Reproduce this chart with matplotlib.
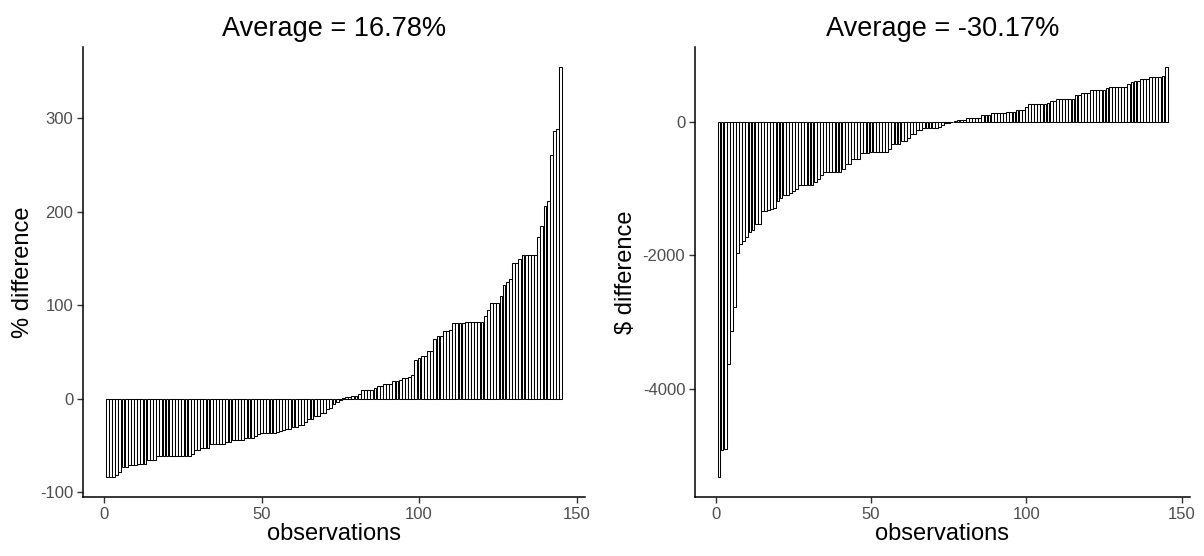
import matplotlib
matplotlib.use("Agg")
import matplotlib.pyplot as plt

plt.rcParams['font.family'] = ['Liberation Sans', 'DejaVu Sans']
plt.rcParams['axes.unicode_minus'] = False

# ---- data ----
pct_diff = [
    -83, -83, -83, -81, -78, -73, -73, -71, -71, -71,
    -70, -70, -70, -65, -65, -65, -61, -61, -61, -61,
    -61, -61, -61, -61, -61, -61, -61, -59, -55, -55,
    -52, -52, -52, -48, -48, -48, -48, -48, -46, -46,
    -44, -44, -44, -44, -42, -42, -42, -40, -38, -36,
    -36, -36, -36, -36, -35.5, -34.5, -33.8, -32, -32, -30.3,
    -30.3, -28, -28, -24.4, -21.6, -21.6, -18.8, -18.8, -14.6, -14.6,
    -11, -9.4, -6, -3.5, -1.4, 0.8, 1.8, 1.8, 3.5, 3.5,
    5.7, 9, 9, 9, 9, 12, 14, 14, 15.5, 15.5,
    15.5, 19.5, 19.5, 20.6, 22.3, 22.3, 23, 25, 42, 44,
    46, 46, 51, 51, 64, 67, 67, 72, 72, 74,
    80.5, 80.5, 80.5, 80.5, 82, 82, 82, 82, 82, 82,
    89, 95, 102, 102, 102, 110, 122, 125, 128, 145,
    145, 149, 154, 154, 154, 154, 154, 173, 185, 206,
    211, 260, 286, 288, 354,
]

usd_diff = [
    -5318, -4920, -4900, -3627, -3144, -2781, -1970, -1836, -1786, -1736,
    -1652, -1622, -1540, -1530, -1338, -1338, -1330, -1313, -1289, -1189,
    -1139, -1104, -1100, -1064, -1040, -1015, -955, -955, -955, -955,
    -955, -905, -866, -806, -756, -756, -756, -756, -756, -756,
    -706, -642, -642, -557, -557, -557, -478, -478, -478, -453,
    -453, -453, -453, -453, -453, -418, -343, -343, -343, -294,
    -294, -244, -179, -179, -125, -125, -100, -100, -100, -100,
    -100, -75, -50, -15, -15, -3, 3, 25, 25, 25,
    50, 50, 50, 50, 50, 100, 100, 100, 134, 134,
    134, 134, 134, 149, 149, 149, 174, 174, 174, 224,
    259, 259, 259, 259, 259, 259, 274, 313, 313, 338,
    338, 338, 338, 338, 338, 398, 398, 423, 423, 423,
    473, 473, 473, 473, 473, 498, 522, 522, 522, 522,
    522, 522, 562, 597, 612, 612, 637, 637, 637, 662,
    662, 662, 662, 687, 811,
]

titles = ["Average = 16.78%", "Average = -30.17%"]
ylabels = ["% difference", r"\$ difference"]
xlabel = "observations"
xticks = [0, 50, 100, 150]
yticks_left = [-100, 0, 100, 200, 300]
yticks_right = [-4000, -2000, 0]

W, H = 1204, 556
fig = plt.figure(figsize=(W / 100, H / 100), dpi=100)

ax1 = fig.add_axes([83 / W, 1 - 497 / H, (585 - 83) / W, (497 - 47) / H])
ax2 = fig.add_axes([695 / W, 1 - 497 / H, (1190 - 695) / W, (497 - 47) / H])

for ax, vals, title, ylab, yt in [
    (ax1, pct_diff, titles[0], ylabels[0], yticks_left),
    (ax2, usd_diff, titles[1], ylabels[1], yticks_right),
]:
    obs = list(range(1, len(vals) + 1))
    ax.bar(obs, vals, width=0.9, color="white", edgecolor="black", linewidth=0.75)
    ax.margins(x=0.05, y=0.05)
    ax.set_xticks(xticks)
    ax.set_yticks(yt)
    for s in ["top", "right"]:
        ax.spines[s].set_visible(False)
    for s in ["left", "bottom"]:
        ax.spines[s].set_linewidth(1.1)
        ax.spines[s].set_color("black")
    ax.tick_params(axis="both", direction="out", length=4, width=1.0,
                   color="#333333", labelsize=12, labelcolor="#4D4D4D", pad=3)
    ax.set_title(title, fontsize=19.5, color="black", pad=8)
    ax.set_xlabel(xlabel, fontsize=17, color="black", labelpad=1)
    ax.set_ylabel(ylab, fontsize=17, color="black", labelpad=4)

fig.savefig("out.png", dpi=100, facecolor="white")
